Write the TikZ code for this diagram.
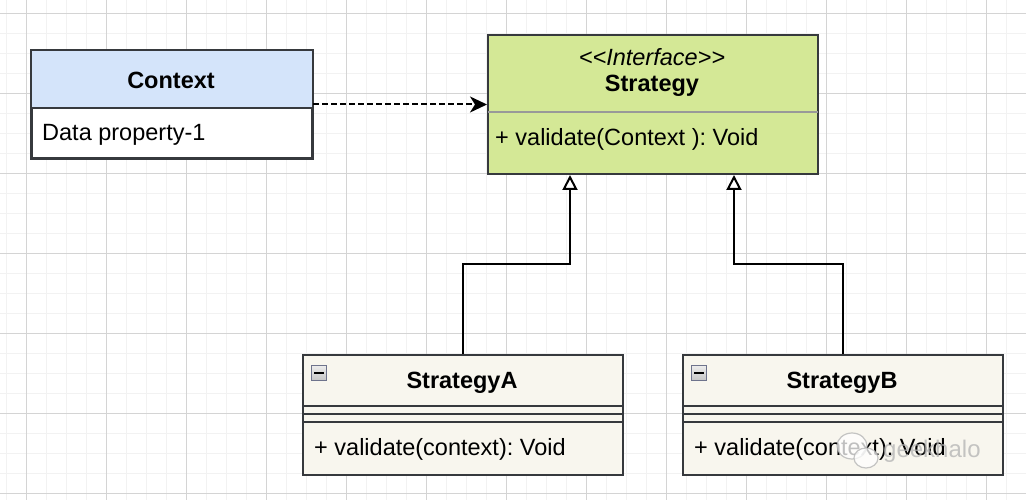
\documentclass[tikz,border=0pt]{standalone}
\usepackage{fontspec}
\setmainfont{Liberation Sans}
\frenchspacing
\usetikzlibrary{arrows.meta,calc}
\definecolor{gridminor}{RGB}{242,242,242}
\definecolor{gridmajor}{RGB}{212,212,212}
\definecolor{ctxblue}{RGB}{212,228,250}
\definecolor{strgreen}{RGB}{212,232,150}
\definecolor{cream}{RGB}{248,246,238}
\definecolor{bord}{RGB}{54,57,61}
\begin{document}
\begin{tikzpicture}[x=1pt,y=-1pt,
  box/.style={draw=bord, line width=2pt, rectangle, anchor=north west, inner sep=0pt},
  lbl/.style={font=\fontsize{23.5}{28}\selectfont, inner sep=0pt},
  lblb/.style={font=\fontsize{23.5}{28}\selectfont\bfseries, inner sep=0pt},
  lbli/.style={font=\fontsize{23.5}{28}\selectfont\itshape, inner sep=0pt},
  inh/.style={line width=2pt, -{Triangle[open, length=15pt, width=15pt, fill=white]}},
  dep/.style={line width=2pt, dash pattern=on 5.5pt off 3.5pt, -{Stealth[length=17pt, width=16pt, inset=5pt]}},
  sep/.style={draw=bord, line width=2pt},
  minusbox/.style={draw={rgb,255:red,110;green,115;blue,140}, line width=1.2pt, top color=gray!15, bottom color=gray!45}
]
\useasboundingbox (0,0) rectangle (1026,500);
\fill[white] (0,0) rectangle (1026,500);
% grid
\foreach \i in {0,...,51} {\draw[gridminor, line width=1pt] (6.67+20*\i,0) -- (6.67+20*\i,500);}
\foreach \j in {0,...,24} {\draw[gridminor, line width=1pt] (0,13.33+20*\j) -- (1026,13.33+20*\j);}
\foreach \i in {0,...,12} {\draw[gridmajor, line width=1pt] (26.67+80*\i,0) -- (26.67+80*\i,500);}
\foreach \j in {0,...,6} {\draw[gridmajor, line width=1pt] (0,13.33+80*\j) -- (1026,13.33+80*\j);}

% Context
\node[box, fill=white, minimum width=280pt, minimum height=107pt] (ctx) at (31,50) {};
\fill[ctxblue] ($(ctx.north west)+(1,1)$) rectangle ($(ctx.north east)+(-1,58)$);
\draw[sep] ($(ctx.north west)+(0,58)$) -- ($(ctx.north east)+(0,58)$);
\draw[draw=bord, line width=2pt] (ctx.north west) rectangle (ctx.south east);
\node[lblb] (ctxname) at (171,80) {Context};
\node[lbl, anchor=west] (ctxattr) at (42,135) {Data property-1};

% Strategy
\node[box, fill=strgreen, minimum width=330pt, minimum height=139pt] (str) at (487,34) {};
\draw[gray!80, line width=2pt] ($(str.north west)+(1,78)$) -- ($(str.north east)+(-1,78)$);
\node[lbli] (strster) at (652,57) {<\kern0pt<Interface>\kern0pt>};
\node[lblb] (strname) at (652,86) {Strategy};
\node[lbl, anchor=west] (strop) at (495,139) {+ validate(Context ): Void};

% StrategyA
\node[box, fill=cream, minimum width=320pt, minimum height=120pt] (sa) at (302,354) {};
\foreach \d in {52,59.5,67.5} {\draw[sep] ($(sa.north west)+(0,\d)$) -- ($(sa.north east)+(0,\d)$);}
\node[minusbox, minimum size=15pt, inner sep=0pt, anchor=north west] (sam) at (311,365) {};
\draw[black, line width=2pt] ($(sam.center)+(-5,0)$) -- ($(sam.center)+(5,0)$);
\node[lblb] (saname) at (462,383) {StrategyA};
\node[lbl, anchor=west] (saop) at (314,449) {+ validate(context): Void};

% StrategyB
\node[box, fill=cream, minimum width=320pt, minimum height=120pt] (sb) at (682,354) {};
\foreach \d in {52,59.5,67.5} {\draw[sep] ($(sb.north west)+(0,\d)$) -- ($(sb.north east)+(0,\d)$);}
\node[minusbox, minimum size=15pt, inner sep=0pt, anchor=north west] (sbm) at (691,365) {};
\draw[black, line width=2pt] ($(sbm.center)+(-5,0)$) -- ($(sbm.center)+(5,0)$);
\node[lblb] (sbname) at (842,383) {StrategyB};
\node[lbl, anchor=west] (sbop) at (694,449) {+ validate(context): Void};

% connectors
\draw[dep] (ctx.east) -- (str.west |- ctx.east);
\draw[inh] (sa.north) -- ++(0,-90) -| ($(str.south west)+(83,0)$);
\draw[inh] (sb.north) -- ++(0,-90) -| ($(str.south west)+(247,0)$);

% watermark
\begin{scope}[opacity=0.75]
\draw[gray!60, fill=white, line width=1.2pt] (852,446) ellipse (15pt and 13pt);
\draw[gray!60, fill=white, line width=1.2pt] (866,458) ellipse (12pt and 10pt);
\node[font=\fontsize{24}{28}\selectfont, text=gray!60, inner sep=0pt, anchor=west] (wm) at (883,451) {geekhalo};
\end{scope}
\end{tikzpicture}
\end{document}
